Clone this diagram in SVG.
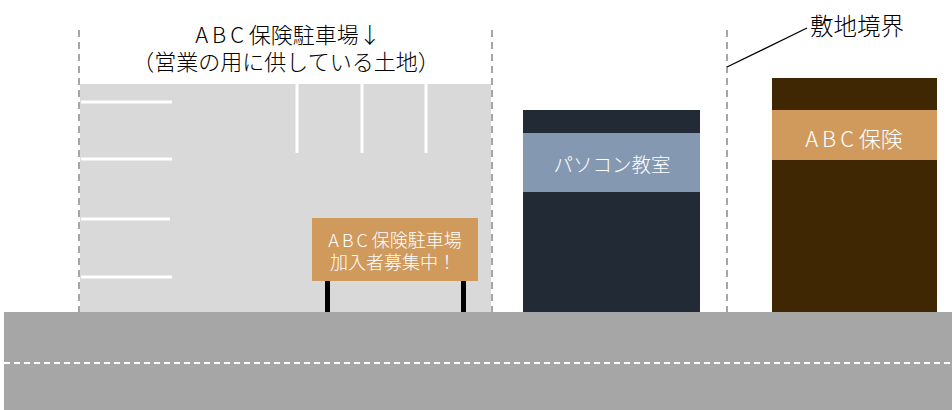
<svg xmlns="http://www.w3.org/2000/svg" width="952" height="410" viewBox="0 0 952 410">
<style>
.t{font-family:"Noto Sans CJK JP","Noto Sans",sans-serif;font-weight:300;text-anchor:middle;dominant-baseline:central}
.bd{stroke:#a6a6a6;stroke-width:2;stroke-dasharray:7,5;fill:none}
.pl{stroke:#ffffff;stroke-width:3}
</style>
<rect width="952" height="410" fill="#ffffff"/>
<g id="parking">
<rect x="80" y="84" width="411" height="230" fill="#d9d9d9"/>
<line class="pl" x1="81" y1="102" x2="172" y2="102"/>
<line class="pl" x1="81" y1="159" x2="172" y2="159"/>
<line class="pl" x1="81" y1="219" x2="170" y2="219"/>
<line class="pl" x1="81" y1="277" x2="172" y2="277"/>
<line class="pl" x1="297" y1="84" x2="297" y2="153"/>
<line class="pl" x1="362" y1="84" x2="362" y2="153"/>
<line class="pl" x1="426" y1="84" x2="426" y2="153"/>
</g>
<g id="boundaries">
<line class="bd" x1="79" y1="30" x2="79" y2="312"/>
<line class="bd" x1="492" y1="30" x2="492" y2="312"/>
<line class="bd" x1="727" y1="30" x2="727" y2="312"/>
</g>
<g id="title">
<text class="t" x="288" y="33" font-size="22" fill="#000000"><tspan letter-spacing="4">AB</tspan>C 保険駐車場↓</text>
<text class="t" x="286" y="60" font-size="22" fill="#000000">（営業の用に供している土地）</text>
</g>
<g id="sign">
<rect x="325" y="280" width="5" height="34" fill="#000000"/>
<rect x="461" y="280" width="5" height="34" fill="#000000"/>
<rect x="312" y="218" width="166" height="63" fill="#d09a5c"/>
<text class="t" x="395" y="239" font-size="18" fill="#ffffff"><tspan letter-spacing="3">AB</tspan>C 保険駐車場</text>
<text class="t" x="393" y="261" font-size="18" fill="#ffffff">加入者募集中！</text>
</g>
<g id="pasocon">
<rect x="523" y="110" width="177" height="204" fill="#222a35"/>
<rect x="523" y="133" width="177" height="59" fill="#8499b1"/>
<text class="t" x="612" y="163" font-size="19.5" fill="#ffffff">パソコン教室</text>
</g>
<g id="abc">
<rect x="772" y="78" width="165" height="236" fill="#3f2704"/>
<rect x="772" y="110" width="165" height="50" fill="#d09a5c"/>
<text class="t" x="854" y="137" font-size="22" fill="#ffffff"><tspan letter-spacing="4">AB</tspan>C 保険</text>
</g>
<g id="label">
<text class="t" x="857" y="25" font-size="23.5" fill="#000000">敷地境界</text>
</g>
<g id="connectors">
<line x1="727" y1="67" x2="807" y2="28" stroke="#000000" stroke-width="1.3"/>
</g>
<g id="road">
<rect x="4" y="312" width="948" height="98" fill="#a6a6a6"/>
<line x1="4" y1="363" x2="952" y2="363" stroke="#ffffff" stroke-width="2" stroke-dasharray="6,4"/>
</g>
</svg>
